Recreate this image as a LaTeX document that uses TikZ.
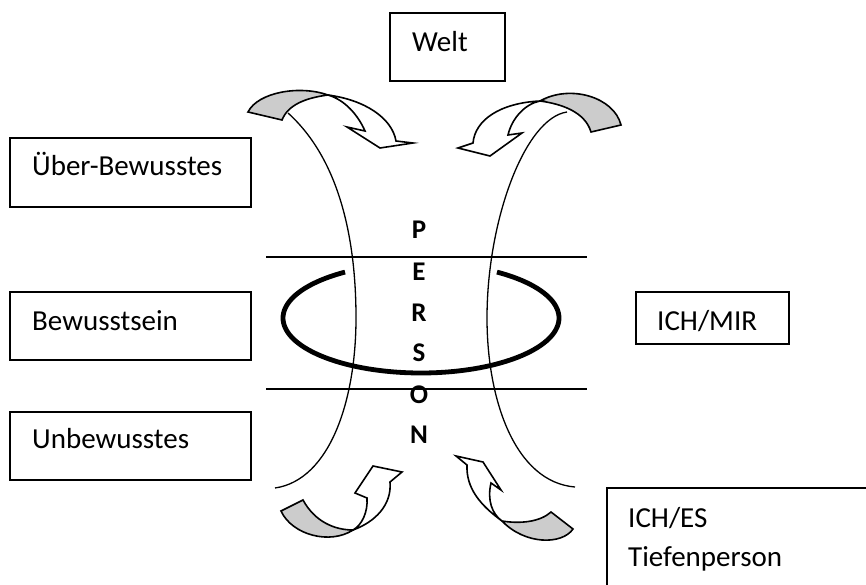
\documentclass[tikz,border=0pt]{standalone}
\usepackage{fontspec}
\setmainfont{Carlito}
\definecolor{grayfill}{RGB}{204,204,204}
\begin{document}
\begin{tikzpicture}[x=1pt,y=-1pt,
  box/.style={draw, line width=1.5pt, rectangle, inner sep=0pt},
  txt/.style={anchor=base west, inner sep=0pt, font=\fontsize{29}{34}\selectfont},
  letter/.style={anchor=base, inner sep=0pt, font=\fontsize{27}{31}\selectfont\bfseries},
  thin/.style={line width=1.3pt},
  arr/.style={line width=1.6pt, line join=miter},
  ring/.style={line width=4.8pt}]
\useasboundingbox (0,0) rectangle (866,585);

% boxes
\node[box, minimum width=115pt, minimum height=68pt] (welt) at (447.5,47) {};
\node[box, minimum width=241pt, minimum height=69pt] (ueber) at (130.5,172.5) {};
\node[box, minimum width=241pt, minimum height=68pt] (bew) at (130.5,326) {};
\node[box, minimum width=241pt, minimum height=68pt] (unbew) at (130.5,446) {};
\node[box, minimum width=153pt, minimum height=52pt] (ichmir) at (712.5,318) {};
\node[box, minimum width=293pt, minimum height=132pt] (iches) at (753.5,554) {};

% texts
\node[txt] (tw) at (412,51.5) {Welt};
\node[txt] (tu) at (32,176) {Über-Bewusstes};
\node[txt] (tb) at (32,330) {Bewusstsein};
\node[txt] (tub) at (32,448) {Unbewusstes};
\node[txt] (tim) at (657,330) {ICH/MIR};
\node[txt] (tie) at (628,527) {ICH/ES};
\node[txt] (tt) at (628,566) {Tiefenperson};

% horizontal lines
\coordinate (h1a) at (266,257); \coordinate (h1b) at (587,257);
\coordinate (h2a) at (266,389); \coordinate (h2b) at (587,389);
\draw[thin] (h1a) -- (h1b);
\draw[thin] (h2a) -- (h2b);

% ring (open at the top)
\draw[ring, domain=123.4:416.6, samples=120, smooth] plot ({421+138*cos(\x)}, {318-55*sin(\x)});

% long curved lines
\draw[thin] (288,113) .. controls (340,160) and (356,240) .. (356,318)
            .. controls (356,400) and (330,480) .. (275,488);
\draw[thin] (567,112) .. controls (525,118) and (487,220) .. (487,318)
            .. controls (487,400) and (515,482) .. (575,487);

% PERSON
\node[letter] (p1) at (419,238) {P};
\node[letter] (p2) at (419,280) {E};
\node[letter] (p3) at (419,321) {R};
\node[letter] (p4) at (419,361) {S};
\node[letter] (p5) at (419,403) {O};
\node[letter] (p6) at (419,443) {N};

% top-left curved arrow
\draw[arr, fill=grayfill] (248,112) .. controls (258,92) and (300,85) .. (328,95)
      .. controls (305,98) and (288,105) .. (282,120) -- cycle;
\draw[arr, fill=white] (328,95) .. controls (365,100) and (392,118) .. (396,141)
      -- (413,143) -- (380,148) -- (347,127) -- (365,131)
      .. controls (358,115) and (345,100) .. (328,95) -- cycle;

% top-right curved arrow
\draw[arr, fill=grayfill] (621,125) .. controls (614,97) and (570,84) .. (540,101)
      .. controls (562,104) and (585,112) .. (591,132) -- cycle;
\draw[arr, fill=white] (540,101) .. controls (500,103) and (475,120) .. (473,143)
      -- (458,148) -- (490,156) -- (522,133) -- (508,135)
      .. controls (512,118) and (525,104) .. (540,101) -- cycle;

% bottom-left curved arrow
\draw[arr, fill=grayfill] (281,511) .. controls (292,535) and (330,545) .. (353,530)
      .. controls (335,530) and (315,522) .. (303,500) -- cycle;
\draw[arr, fill=white] (353,530) .. controls (375,522) and (392,505) .. (390,482)
      -- (402,472) -- (373,466) -- (355,493) -- (367,498)
      .. controls (368,512) and (362,525) .. (353,530) -- cycle;

% bottom-right curved arrow
\draw[arr, fill=grayfill] (573,529) .. controls (562,545) and (525,545) .. (502,521)
      .. controls (520,524) and (540,522) .. (551,512) -- cycle;
\draw[arr, fill=white] (502,521) .. controls (480,505) and (466,488) .. (467,465)
      -- (456,456) -- (483,462) -- (501,490) -- (491,483)
      .. controls (487,500) and (492,514) .. (502,521) -- cycle;
\end{tikzpicture}
\end{document}
